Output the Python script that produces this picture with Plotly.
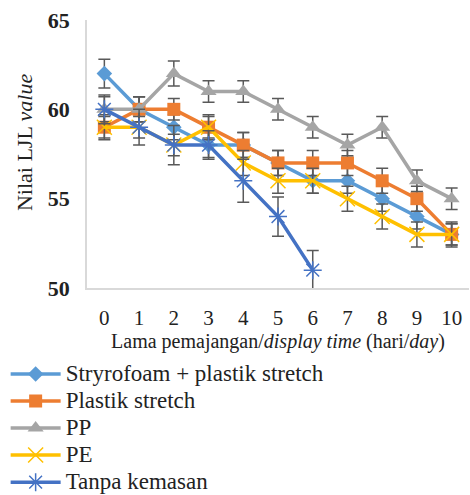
import plotly.graph_objects as go

days = [0, 1, 2, 3, 4, 5, 6, 7, 8, 9, 10]
day_labels = [str(d) for d in days]

styrofoam = [62, 60, 59, 58, 58, 57, 56, 56, 55, 54, 53]
styrofoam_err = [0.8, 0.7, 0.7, 0.7, 0.7, 0.7, 0.7, 0.7, 0.7, 0.7, 0.7]
plastik = [59, 60, 60, 59, 58, 57, 57, 57, 56, 55, 53]
plastik_err = [0.7, 0.7, 0.6, 0.7, 0.7, 0.7, 0.7, 0.7, 0.7, 0.7, 0.6]
pp = [60, 60, 62, 61, 61, 60, 59, 58, 59, 56, 55]
pp_err = [0.7, 0.7, 0.7, 0.6, 0.6, 0.6, 0.6, 0.6, 0.6, 0.6, 0.6]
pe = [59, 59, 58, 59, 57, 56, 56, 55, 54, 53, 53]
pe_err = [0.6, 0.6, 0.6, 0.6, 0.7, 0.7, 0.7, 0.7, 0.7, 0.7, 0.6]
tanpa_days = [0, 1, 2, 3, 4, 5, 6]
tanpa = [60, 59, 58, 58, 56, 54, 51]
tanpa_err = [0.8, 1.0, 1.1, 0.8, 1.2, 1.1, 1.1]

series = [
    ("Stryrofoam + plastik stretch", days, styrofoam, styrofoam_err, "#5B9BD5", "diamond", 12),
    ("Plastik stretch", days, plastik, plastik_err, "#ED7D31", "square", 13),
    ("PP", days, pp, pp_err, "#A5A5A5", "triangle-up", 14),
    ("PE", days, pe, pe_err, "#FFC000", "x-thin-open", 15),
    ("Tanpa kemasan", tanpa_days, tanpa, tanpa_err, "#4472C4", "asterisk-open", 15),
]

SERIF = "Liberation Serif"
fig = go.Figure()
for name, xs, ys, es, color, sym, size in series:
    open_sym = sym.endswith("open")
    fig.add_trace(go.Scatter(
        x=[str(x) for x in xs], y=ys,
        name='<span style="font-size:23px">' + name + '</span>',
        mode="lines+markers",
        line=dict(color=color, width=3.5),
        marker=dict(symbol=sym, size=size, color=color,
                    line=dict(color=color, width=1.5 if open_sym else 0)),
        error_y=dict(type="data", array=es, visible=True, color="#595959",
                     thickness=1.5, width=6),
    ))

fig.update_layout(
    template="none",
    width=470, height=495,
    margin=dict(l=87, r=1, t=20, b=207, autoexpand=False),
    paper_bgcolor="white", plot_bgcolor="white",
    showlegend=True,
    font=dict(family=SERIF, color="#222222"),
    legend=dict(orientation="v", xref="container", yref="container",
                x=0.012, xanchor="left", y=0.282, yanchor="top",
                font=dict(family=SERIF, size=18.5, color="#222222"),
                tracegroupgap=0, itemwidth=50, bgcolor="rgba(0,0,0,0)", borderwidth=0),
)
fig.update_xaxes(type="category", categoryorder="array", categoryarray=day_labels,
                 range=[-0.5, 10.5],
                 showgrid=False, zeroline=False, showline=True, linecolor="#D9D9D9", linewidth=1.5,
                 ticks="", ticklabelstandoff=10, automargin=False,
                 tickfont=dict(family=SERIF, size=21, color="#222222"),
                 title=dict(text="Lama pemajangan/<i>display time</i> (hari/<i>day</i>)",
                            font=dict(family=SERIF, size=20, color="#222222"), standoff=2))
fig.update_yaxes(range=[50, 65], tickvals=[50, 55, 60, 65],
                 ticktext=["<b>50</b>", "<b>55</b>", "<b>60</b>", "<b>65</b>"],
                 showgrid=False, zeroline=False, showline=True, linecolor="#D9D9D9", linewidth=1.5,
                 ticks="", ticklabelstandoff=11, automargin=False,
                 tickfont=dict(family=SERIF, size=22, color="#222222"))
fig.add_annotation(text="Nilai LJL <i>value</i>", xref="paper", yref="paper",
                   x=-0.162, y=0.545, xanchor="center", yanchor="middle",
                   textangle=-90, showarrow=False,
                   font=dict(family=SERIF, size=22, color="#222222"))
fig.write_html("out.html")
